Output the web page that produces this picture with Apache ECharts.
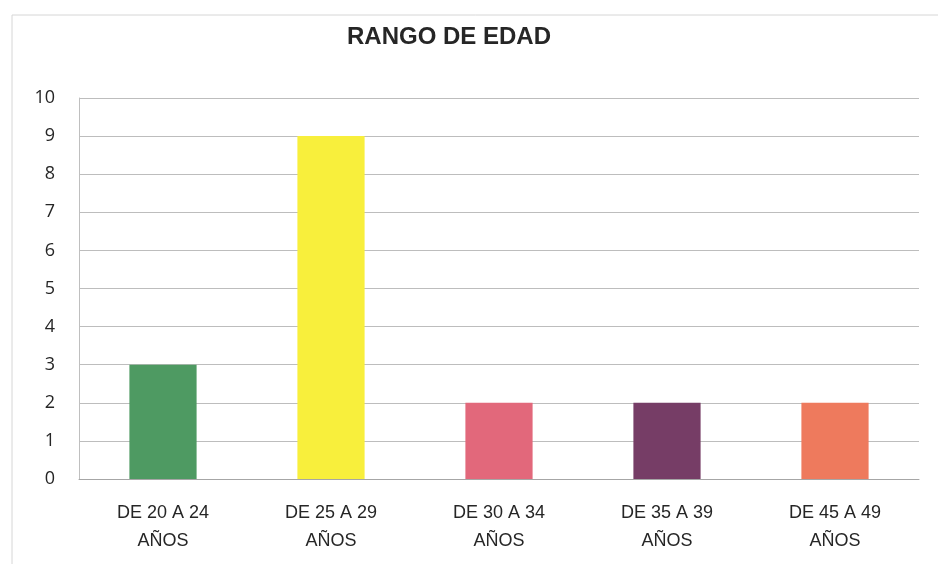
<!DOCTYPE html>
<html><head><meta charset="utf-8">
<script src="https://cdn.jsdelivr.net/npm/echarts@6/dist/echarts.min.js"></script>
<style>html,body{margin:0;padding:0;background:#fff}#c{width:938px;height:564px}</style>
</head><body><div id="c"></div>
<script>
var categories = ["DE 20 A 24\nAÑOS", "DE 25 A 29\nAÑOS", "DE 30 A 34\nAÑOS", "DE 35 A 39\nAÑOS", "DE 45 A 49\nAÑOS"];
var values = [3, 9, 2, 2, 2];
var barColors = ["#4e9a62", "#f8ef3c", "#e2687b", "#763d66", "#ee7a5d"];

var chart = echarts.init(document.getElementById('c'));
chart.setOption({
  backgroundColor: '#ffffff',
  animation: false,
  graphic: [{type:'rect', shape:{x:12,y:15,width:940,height:560}, style:{fill:'none', stroke:'#d6d6d6', lineWidth:1}}],
  title: {text: 'RANGO DE EDAD', left: 342, top: 20,
    textStyle: {fontFamily: 'Liberation Sans', fontWeight: 'bold', fontSize: 24, color: '#262626'}},
  grid: {left: 79, right: 19, top: 98, bottom: 85},
  xAxis: {type: 'category', data: categories,
    axisLine: {lineStyle: {color: '#a6a6a6'}}, axisTick: {show: false},
    axisLabel: {fontFamily: 'Liberation Sans', fontSize: 18, color: '#262626', lineHeight: 28, margin: 20, interval: 0}},
  yAxis: {type: 'value', min: 0, max: 10, interval: 1,
    axisLine: {show: true, lineStyle: {color: '#bfbfbf'}}, axisTick: {show: false},
    splitLine: {lineStyle: {color: '#bdbdbd'}},
    axisLabel: {fontFamily: 'Open Sans', fontSize: 18, color: '#262626', margin: 24}},
  series: [{type: 'bar', barWidth: '40%',
    data: values.map(function(v, i){ return {value: v, itemStyle: {color: barColors[i]}}; })}]
});
</script></body></html>
